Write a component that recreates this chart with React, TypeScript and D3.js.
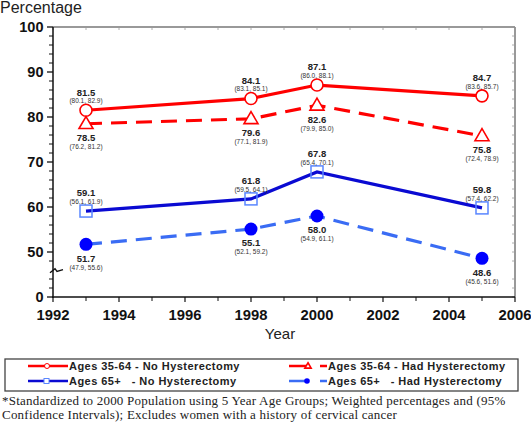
import React from "react";
import * as d3 from "d3";

const years = [1993, 1998, 2000, 2005];
const young_noHyst = [81.5, 84.1, 87.1, 84.7];
const young_noHyst_ci = ["(80.1, 82.9)", "(83.1, 85.1)", "(86.0, 88.1)", "(83.6, 85.7)"];
const young_hadHyst = [78.5, 79.6, 82.6, 75.8];
const young_hadHyst_ci = ["(76.2, 81.2)", "(77.1, 81.9)", "(79.9, 85.0)", "(72.4, 78.9)"];
const old_noHyst = [59.1, 61.8, 67.8, 59.8];
const old_noHyst_ci = ["(56.1, 61.9)", "(59.5, 64.1)", "(65.4, 70.1)", "(57.4, 62.2)"];
const old_hadHyst = [51.7, 55.1, 58.0, 48.6];
const old_hadHyst_ci = ["(47.9, 55.6)", "(52.1, 59.2)", "(54.9, 61.1)", "(45.6, 51.6)"];

const xTicks = [1992, 1994, 1996, 1998, 2000, 2002, 2004, 2006];
const yTickValues = [40, 50, 60, 70, 80, 90, 100];
const yTickLabels = ["0", "50", "60", "70", "80", "90", "100"];

const legendLabels = [
  "Ages 35-64 - No Hysterectomy",
  "Ages 35-64 - Had Hysterectomy",
  "Ages 65+   - No Hysterectomy",
  "Ages 65+   - Had Hysterectomy",
];

const RED = "#ff0000";
const DBLUE = "#0a0ad2";
const LBLUE = "#3a6cf4";
const SQ = "#5a86ff";
const FONT = "Liberation Sans, Arial, sans-serif";
const SERIF = "Liberation Serif, Times New Roman, serif";

export default function App() {
  const x = d3.scaleLinear().domain([1992, 2006]).range([53, 515]);
  const y = d3.scaleLinear().domain([40, 100]).range([297, 27]);
  const line = d3
    .line<number>()
    .x((_, i) => x(years[i]))
    .y((d) => y(d));

  const minorY = d3.range(40, 101, 2).filter((v) => v % 10 !== 0 && v !== 46);
  const minorX = d3.range(1993, 2006, 2);

  const series = [
    { vals: young_noHyst, ci: young_noHyst_ci, color: RED, dash: undefined, above: true, marker: "circle" },
    { vals: young_hadHyst, ci: young_hadHyst_ci, color: RED, dash: "16 9", above: false, marker: "triangle" },
    { vals: old_noHyst, ci: old_noHyst_ci, color: DBLUE, dash: undefined, above: true, marker: "square" },
    { vals: old_hadHyst, ci: old_hadHyst_ci, color: LBLUE, dash: "16 9", above: false, marker: "dot" },
  ];

  const marker = (kind: string, cx: number, cy: number, s: number, key: any) => {
    if (kind === "circle")
      return <circle key={key} cx={cx} cy={cy} r={6 * s} fill="white" stroke={RED} strokeWidth={1.6} />;
    if (kind === "triangle") {
      const h = 12 * s, w = 14 * s;
      return (
        <path key={key} d={`M${cx},${cy - h * 0.6}L${cx + w / 2},${cy + h * 0.4}L${cx - w / 2},${cy + h * 0.4}Z`}
          fill="white" stroke={RED} strokeWidth={1.6} />
      );
    }
    if (kind === "square")
      return <rect key={key} x={cx - 6 * s} y={cy - 6 * s} width={12 * s} height={12 * s} fill="white" fillOpacity={0} stroke={SQ} strokeWidth={1.5} />;
    return <circle key={key} cx={cx} cy={cy} r={6.5 * s} fill="#0000ff" />;
  };

  const legendText = { fontSize: 11, fontWeight: "bold" as const, fill: "#222", letterSpacing: 0.45, style: { whiteSpace: "pre" as const } };

  return (
    <svg width={531} height={428} style={{ position: "absolute", left: 0, top: 0, background: "white" }} fontFamily={FONT}>
      <rect width={531} height={428} fill="white" />
      <text x={0} y={13} fontSize={16} fill="#222">Percentage</text>

      {/* frame */}
      <line x1={53} x2={515} y1={27} y2={27} stroke="#777" strokeWidth={1.5} />
      <line x1={515} x2={515} y1={27} y2={297} stroke="#777" strokeWidth={1.5} />
      {minorY.concat(yTickValues).map((v) => (
        <line key={"r" + v} x1={512} x2={515} y1={y(v)} y2={y(v)} stroke="#999" strokeWidth={0.8} />
      ))}
      {d3.range(1992, 2007).map((v) => (
        <line key={"t" + v} x1={x(v)} x2={x(v)} y1={27} y2={30} stroke="#999" strokeWidth={0.8} />
      ))}

      {/* y axis */}
      <line x1={53} x2={53} y1={27} y2={298} stroke="#111" strokeWidth={1.5} />
      {yTickValues.map((v, i) => (
        <g key={"y" + v}>
          <line x1={47} x2={53} y1={y(v)} y2={y(v)} stroke="#111" strokeWidth={1.3} />
          <text x={43.5} y={y(v)} dy="0.36em" textAnchor="end" fontSize={14.5} fontWeight="bold" fill="#111">
            {yTickLabels[i]}
          </text>
        </g>
      ))}
      {minorY.map((v) => (
        <line key={"m" + v} x1={49} x2={53} y1={y(v)} y2={y(v)} stroke="#111" strokeWidth={1} />
      ))}
      {/* axis break */}
      <path d={`M${50},${y(45.6) + 1} L${55},${y(46.3)} L${57},${y(45.7)} L${63},${y(46.1)}`} fill="none" stroke="#111" strokeWidth={1.4} />

      {/* x axis */}
      <line x1={52} x2={515} y1={297} y2={297} stroke="#111" strokeWidth={1.5} />
      {xTicks.map((v) => (
        <g key={"x" + v}>
          <line x1={x(v)} x2={x(v)} y1={297} y2={302} stroke="#111" strokeWidth={1.2} />
          <text x={x(v)} y={320} textAnchor="middle" fontSize={14.8} fontWeight="bold" fill="#111">{v}</text>
        </g>
      ))}
      {minorX.map((v) => (
        <line key={"mx" + v} x1={x(v)} x2={x(v)} y1={297} y2={301} stroke="#111" strokeWidth={1} />
      ))}
      <text x={280} y={339} textAnchor="middle" fontSize={15} fill="#222">Year</text>

      {/* series */}
      {series.map((s, si) => (
        <g key={"s" + si}>
          <path d={line(s.vals) || ""} fill="none" stroke={s.color} strokeWidth={3.2} strokeDasharray={s.dash} />
          {s.vals.map((v, i) => marker(s.marker, x(years[i]), y(v), 1, i))}
          {s.vals.map((v, i) => {
            const cx = x(years[i]);
            const cy = y(v);
            const o1 = s.above ? -18 : 14;
            const o2 = s.above ? -9.5 : 23;
            return (
              <g key={"l" + i}>
                <text x={cx} y={cy + o1} dy="0.35em" textAnchor="middle" fontSize={9.5} fontWeight="bold" fill="#222">
                  {v.toFixed(1)}
                </text>
                <text x={cx} y={cy + o2} dy="0.35em" textAnchor="middle" fontSize={6.5} fill="#333">
                  {s.ci[i]}
                </text>
              </g>
            );
          })}
        </g>
      ))}

      {/* legend */}
      <rect x={5} y={359} width={513} height={32} fill="white" stroke="#444" strokeWidth={1.3} />
      <line x1={28} x2={68} y1={366} y2={366} stroke={RED} strokeWidth={2.5} />
      <circle cx={47} cy={366} r={2.5} fill="white" stroke={RED} strokeWidth={1} />
      <text x={69} y={366} dy="0.36em" {...legendText}>{legendLabels[0]}</text>

      <line x1={28} x2={68} y1={381} y2={381} stroke={DBLUE} strokeWidth={2.5} />
      <rect x={44} y={378.5} width={5} height={5} fill="white" stroke={SQ} strokeWidth={1} />
      <text x={69} y={381} dy="0.36em" {...legendText}>{legendLabels[2]}</text>

      <line x1={289} x2={308} y1={366} y2={366} stroke={RED} strokeWidth={2.5} />
      {marker("triangle", 308, 366, 0.45, "lt")}
      <line x1={320} x2={327} y1={366} y2={366} stroke={RED} strokeWidth={2.5} />
      <text x={328} y={366} dy="0.36em" {...legendText}>{legendLabels[1]}</text>

      <line x1={289} x2={306} y1={381} y2={381} stroke={LBLUE} strokeWidth={2.5} />
      <circle cx={307} cy={381} r={2.8} fill="#0000ff" />
      <line x1={320} x2={327} y1={381} y2={381} stroke={LBLUE} strokeWidth={2.5} />
      <text x={328} y={381} dy="0.36em" {...legendText}>{legendLabels[3]}</text>

      {/* footnote */}
      <text x={2} y={405} fontFamily={SERIF} fontSize={13} letterSpacing={0.22} fill="#222">
        *Standardized to 2000 Population using 5 Year Age Groups; Weighted percentages and (95%
      </text>
      <text x={2} y={419} fontFamily={SERIF} fontSize={13} letterSpacing={0.22} fill="#222">
        Confidence Intervals); Excludes women with a history of cervical cancer
      </text>
    </svg>
  );
}
